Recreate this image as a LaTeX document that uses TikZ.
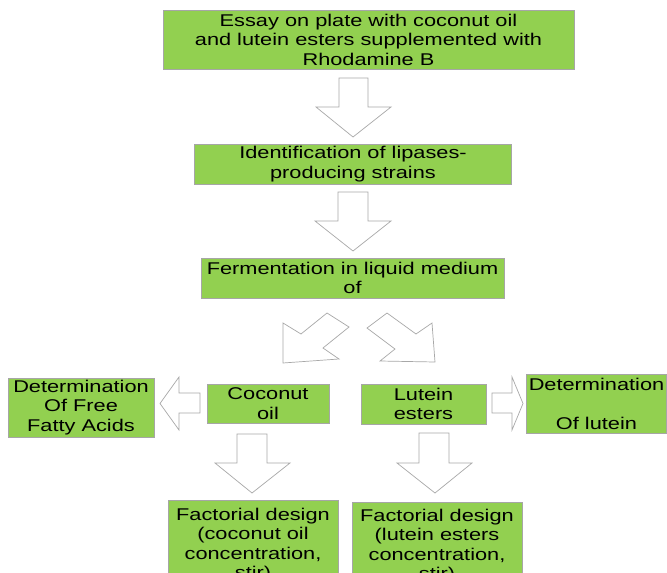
\documentclass[tikz,border=0pt]{standalone}
\usepackage{fontspec}
\newfontfamily\boxfont{Liberation Sans}[FakeStretch=1.28]
\definecolor{boxgreen}{HTML}{92D050}
\definecolor{boxline}{HTML}{A6A6A6}
\definecolor{arrowline}{HTML}{A8A8A8}
\begin{document}
\begin{tikzpicture}[x=1pt,y=-1pt,
  stepbox/.style={draw=boxline, line width=0.7pt, fill=boxgreen, inner sep=0pt,
    align=center, font=\boxfont\fontsize{17}{19.5}\selectfont, text=black},
  blockarrow/.style={draw=arrowline, line width=0.7pt, fill=white, line join=miter}]
\useasboundingbox (0,0) rectangle (667,573);
\clip (0,0) rectangle (667,573);
\fill[white] (0,0) rectangle (667,573);

% boxes
\node[stepbox, minimum width=411pt, minimum height=59pt] (b1) at (368.5,39.5)
  {Essay on plate with coconut oil\\and lutein esters supplemented with\\Rhodamine B};
\node[stepbox, minimum width=317pt, minimum height=40pt] (b2) at (353,164)
  {Identification of lipases-\\producing strains};
\node[stepbox, minimum width=303pt, minimum height=40pt] (b3) at (352.5,278)
  {Fermentation in liquid medium\\of};
\node[stepbox, minimum width=146pt, minimum height=59pt] (detL) at (81,407.5)
  {Determination\\Of Free\\Fatty Acids};
\node[stepbox, minimum width=122pt, minimum height=39pt] (coco) at (268,403.5)
  {Coconut\\oil};
\node[stepbox, minimum width=125pt, minimum height=40pt] (lut) at (423.5,404)
  {Lutein\\esters};
\node[stepbox, minimum width=140pt, minimum height=59pt] (detR) at (596.5,403.5)
  {Determination\\[19.5pt]Of lutein};
\node[stepbox, minimum width=170pt, minimum height=90pt] (fL) at (253,545)
  {Factorial design\\(coconut oil\\concentration,\\stir)};
\node[stepbox, minimum width=170pt, minimum height=88pt] (fR) at (437,546)
  {Factorial design\\(lutein esters\\ concentration,\\stir)};

% block arrows
\draw[blockarrow] (339,78) -- (368,78) -- (368,107) -- (391,107) -- (353,137)
  -- (316,107) -- (339,107) -- cycle;
\draw[blockarrow] (338,192) -- (368,192) -- (368,221) -- (391,221) -- (353,251)
  -- (315,221) -- (338,221) -- cycle;
\draw[blockarrow] (283,323) -- (301,334) -- (327,313) -- (349,327) -- (323,348)
  -- (339,359) -- (283,363) -- cycle;
\draw[blockarrow] (367,328) -- (387,313) -- (416,334) -- (432,323) -- (435,362)
  -- (380,361) -- (395,349) -- cycle;
\draw[blockarrow] (200,393) -- (179,393) -- (179,377) -- (160,403.5) -- (179,430)
  -- (179,413) -- (200,413) -- cycle;
\draw[blockarrow] (492,393) -- (512,393) -- (512,377) -- (523,403.5) -- (512,430)
  -- (512,413) -- (492,413) -- cycle;
\draw[blockarrow] (237,434) -- (267,434) -- (267,463) -- (290,463) -- (252,493)
  -- (215,463) -- (237,463) -- cycle;
\draw[blockarrow] (419,433) -- (449,433) -- (449,463) -- (472,463) -- (435,493)
  -- (397,463) -- (419,463) -- cycle;
\end{tikzpicture}
\end{document}
